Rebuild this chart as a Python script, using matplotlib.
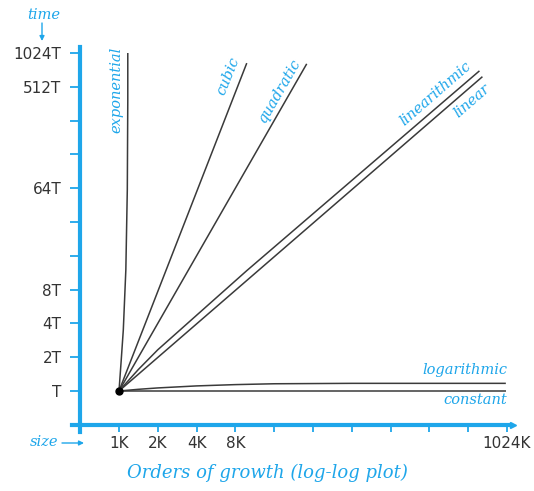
import matplotlib
matplotlib.use("Agg")
import matplotlib.pyplot as plt
import numpy as np

# Problem sizes (in K) and running times (in units of T) along each growth curve
constant_n = [1, 1003]
constant_t = [1, 1]

logarithmic_n = [1, 1.41, 2, 4, 8, 16, 64, 1003]
logarithmic_t = [1, 1.035, 1.065, 1.11, 1.14, 1.16, 1.17, 1.17]

linear_n = [1, 660]
linear_t = [1, 630]

linearithmic_n = [1, 1.41, 2.0, 9.8, 626]
linearithmic_t = [1, 1.55, 2.33, 11.8, 710]

quadratic_n = [1, 28.6]
quadratic_t = [1, 820]

cubic_n = [1, 9.8]
cubic_t = [1, 832]

exponential_n = [1, 1.04, 1.08, 1.13, 1.16, 1.17, 1.17]
exponential_t = [1, 1.87, 3.5, 12, 62, 388, 1024]

size_ticks = [1, 2, 4, 8, 16, 32, 64, 128, 256, 512, 1024]
size_labels = ["1K", "2K", "4K", "8K", "", "", "", "", "", "", "1024K"]
time_ticks = [1, 2, 4, 8, 16, 32, 64, 128, 256, 512, 1024]
time_labels = ["T", "2T", "4T", "8T", "", "", "64T", "", "", "512T", "1024T"]

BLUE = "#1ea6ea"
INK = "#3a3a3a"
LABEL = "#333333"
SERIF = "DejaVu Serif"

W, H = 534, 491
fig = plt.figure(figsize=(W / 100, H / 100), dpi=100)
ax = fig.add_axes([0, 0, 1, 1])
ax.set_xscale("log", base=2)
ax.set_yscale("log", base=2)

# pixel geometry of the log-log grid: 1K/T at (119, 391), one doubling = 38.8 px / 33.8 px
X0, Y0, DX, DY = 119, 391, 38.8, 33.8
ax.set_xlim(2 ** ((0 - X0) / DX), 2 ** ((W - X0) / DX))
ax.set_ylim(2 ** ((Y0 - H) / DY), 2 ** ((Y0 - 0) / DY))


def px(x, y):
    """Convert pixel position to data coordinates."""
    return 2 ** ((x - X0) / DX), 2 ** ((Y0 - y) / DY)


# axes spines crossing at (0.5K, T/2)
for s in ["top", "right"]:
    ax.spines[s].set_visible(False)
ax.spines["left"].set_position(("data", 0.5))
ax.spines["bottom"].set_position(("data", 0.5))
for s in ["left", "bottom"]:
    ax.spines[s].set_color(BLUE)
    ax.spines[s].set_linewidth(3.0)
ax.spines["left"].set_bounds(px(0, 432)[1], px(0, 47)[1])
ax.spines["bottom"].set_bounds(px(72, 0)[0], px(511, 0)[0])
# small arrowhead at the end of the size axis
ax.plot([px(513, 0)[0]], [0.5], marker=">", color=BLUE, markersize=4,
        clip_on=False, zorder=5)

ax.set_xticks(size_ticks)
ax.set_xticklabels(size_labels)
ax.set_yticks(time_ticks)
ax.set_yticklabels(time_labels)
ax.minorticks_off()
ax.tick_params(axis="x", direction="out", length=5, width=1.3, color=BLUE,
               pad=3, labelsize=11, labelcolor=LABEL)
ax.tick_params(axis="y", direction="out", length=7.5, width=1.3, color=BLUE,
               pad=6, labelsize=11, labelcolor=LABEL)

line_kw = dict(color=INK, lw=1.1, solid_capstyle="butt")
ax.plot(constant_n, constant_t, **line_kw)
ax.plot(logarithmic_n, logarithmic_t, **line_kw)
ax.plot(linear_n, linear_t, **line_kw)
ax.plot(linearithmic_n, linearithmic_t, **line_kw)
ax.plot(quadratic_n, quadratic_t, **line_kw)
ax.plot(cubic_n, cubic_t, **line_kw)
ax.plot(exponential_n, exponential_t, **line_kw)
ax.plot([1], [1], "o", color="black", markersize=5, zorder=6)

lab = dict(color=BLUE, family=SERIF, style="italic", fontsize=10.5)
ax.text(*px(116, 90), "exponential", rotation=90, ha="center", va="center", **lab)
ax.text(*px(228, 76), "cubic", rotation=68, ha="center", va="center", **lab)
ax.text(*px(280, 91), "quadratic", rotation=60, ha="center", va="center", **lab)
ax.text(*px(436, 94), "linearithmic", rotation=41, ha="center", va="center", **lab)
ax.text(*px(472, 101), "linear", rotation=41, ha="center", va="center", **lab)
ax.text(*px(508, 370), "logarithmic", ha="right", va="center", **lab)
ax.text(*px(507, 400), "constant", ha="right", va="center", **lab)

# axis captions with arrows
ax.text(*px(44, 15), "time", ha="center", va="center", **lab)
ax.annotate("", xy=px(42, 41), xytext=px(42, 23),
            arrowprops=dict(arrowstyle="-|>", color=BLUE, lw=1.0,
                            mutation_scale=7, shrinkA=0, shrinkB=0),
            annotation_clip=False)
ax.text(*px(44, 442), "size", ha="center", va="center", **lab)
ax.annotate("", xy=px(84, 443), xytext=px(62, 443),
            arrowprops=dict(arrowstyle="-|>", color=BLUE, lw=1.0,
                            mutation_scale=7, shrinkA=0, shrinkB=0),
            annotation_clip=False)

fig.text(267 / W, 1 - 473 / H, "Orders of growth (log-log plot)", ha="center",
         va="center", color=BLUE, family=SERIF, style="italic", fontsize=13)

fig.savefig("out.png", dpi=100)
